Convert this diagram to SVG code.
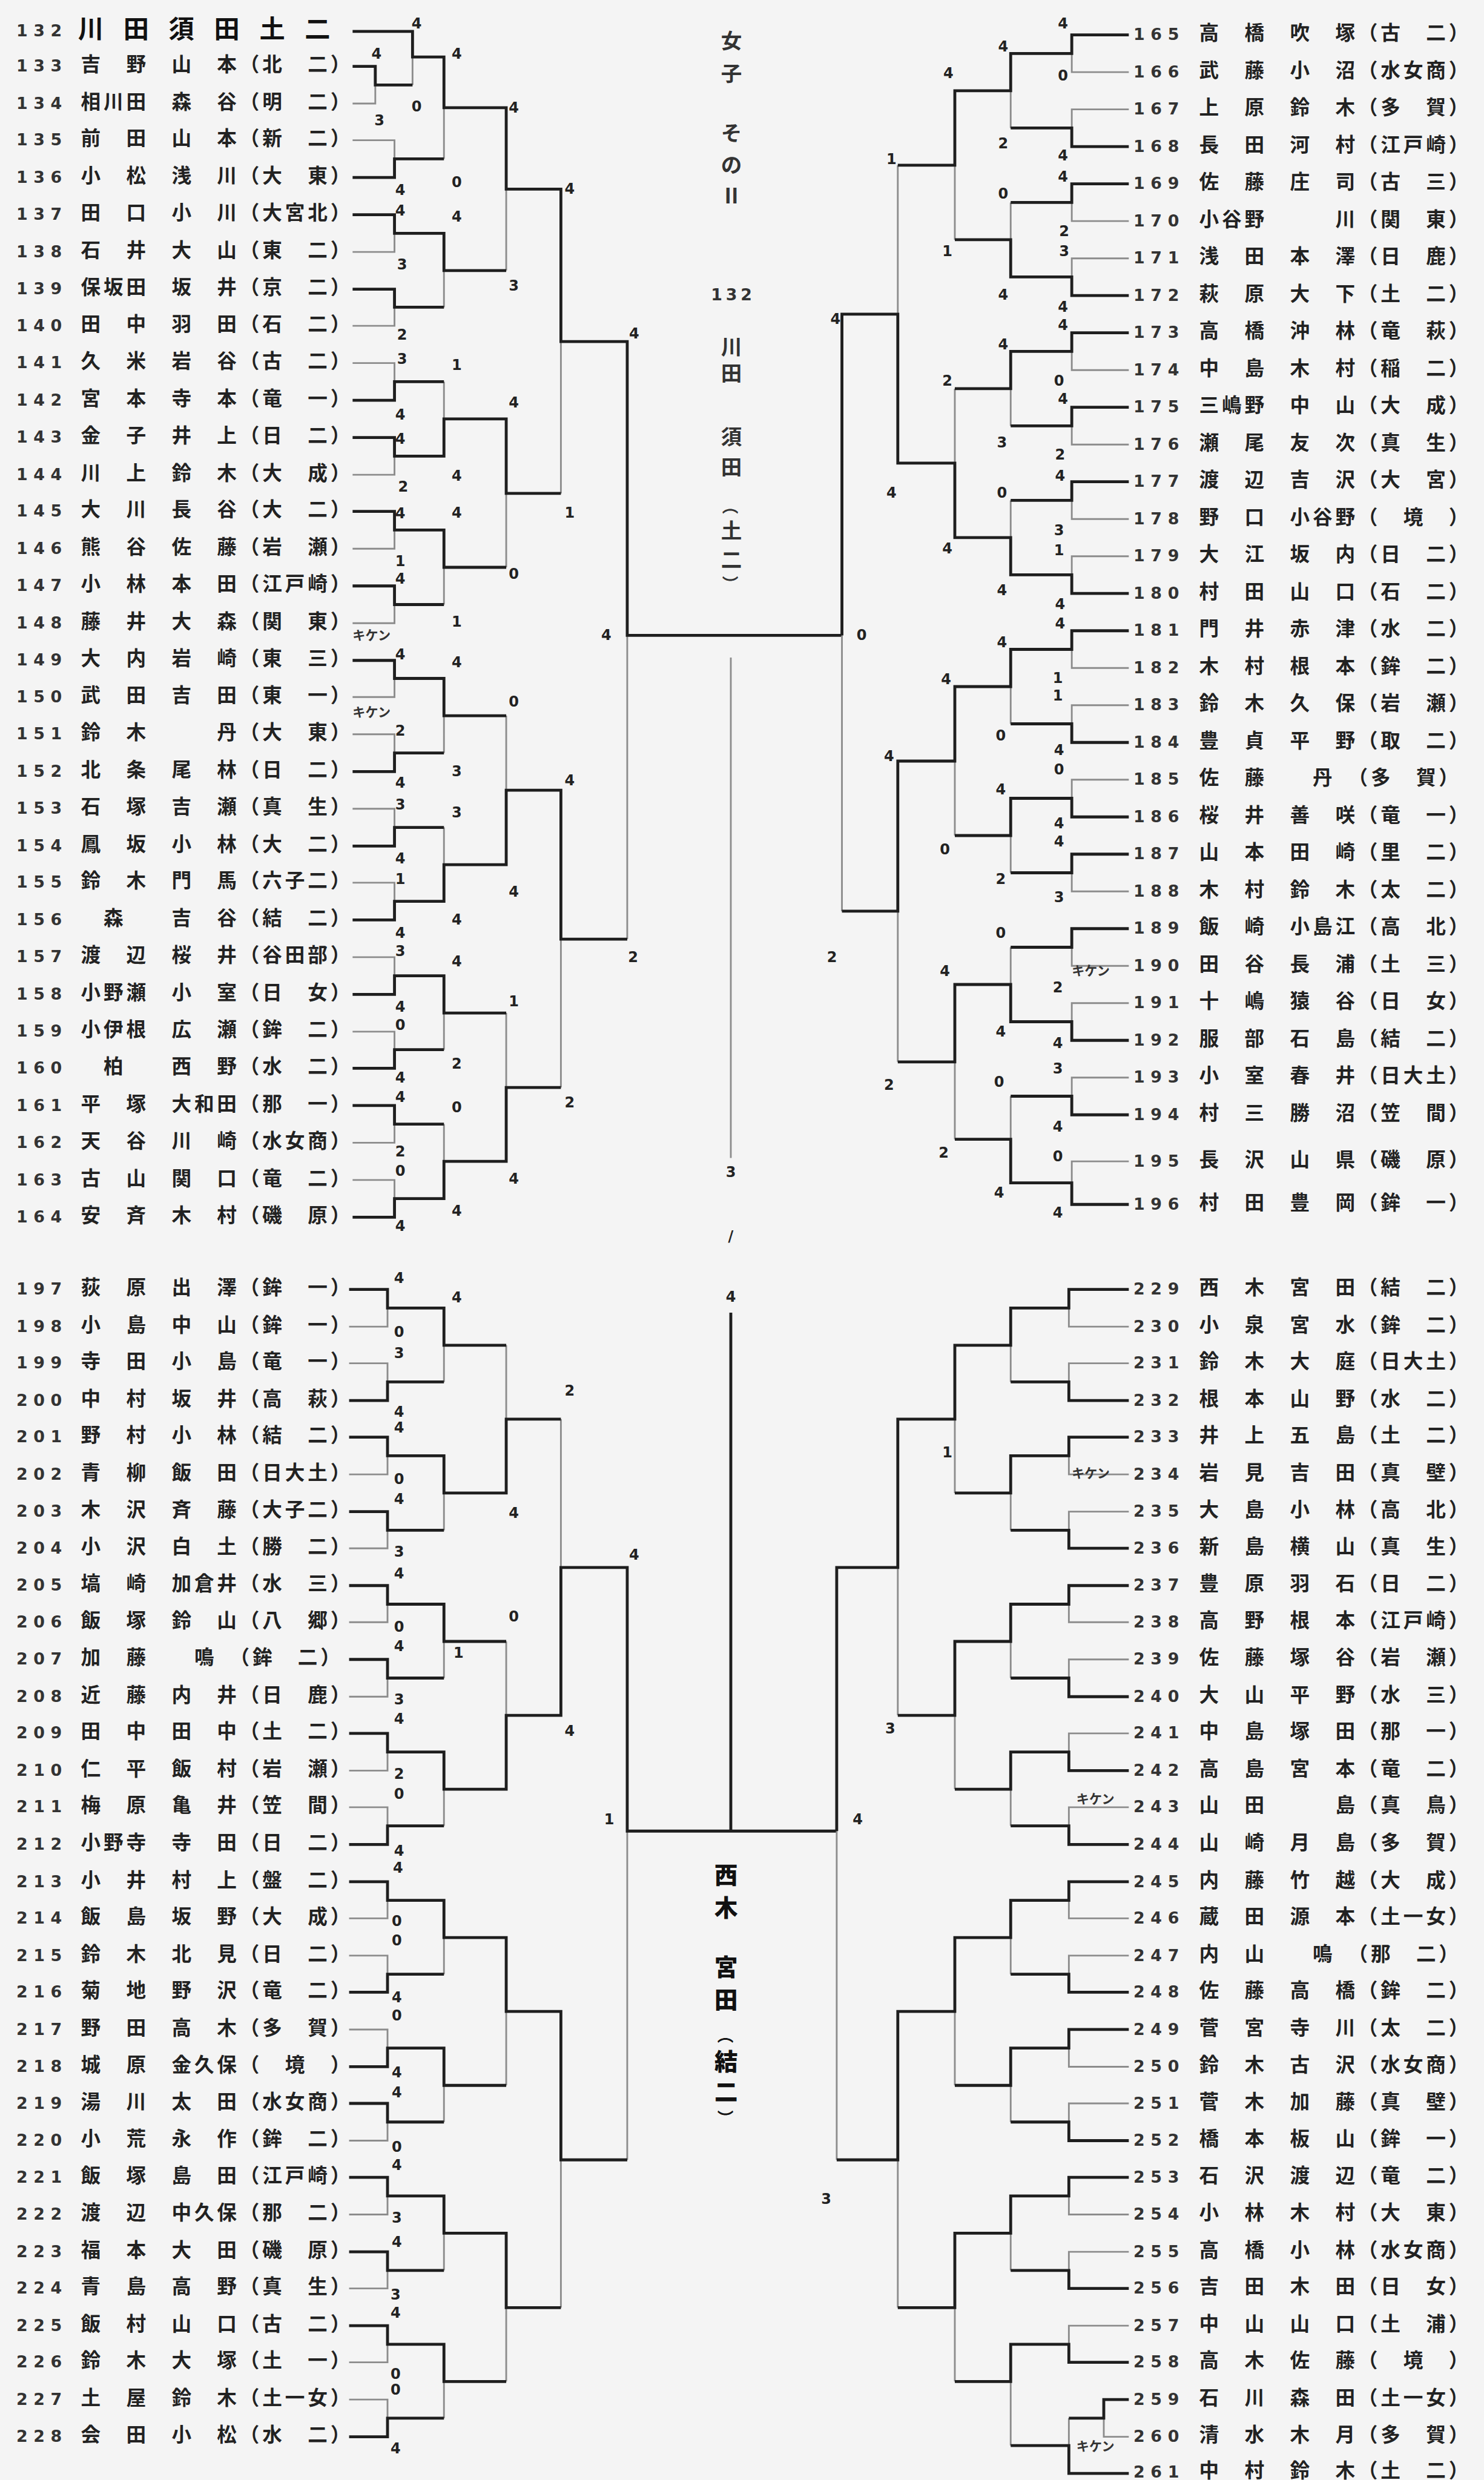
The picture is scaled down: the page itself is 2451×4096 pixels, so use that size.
<svg xmlns="http://www.w3.org/2000/svg" width="2451" height="4096" viewBox="0 0 2451 4096">
<style>
.t{font-family:"Noto Sans CJK JP","Noto Sans CJK SC",sans-serif;font-size:34px;font-weight:bold;letter-spacing:5px;fill:#222}
.n{font-family:"DejaVu Sans",sans-serif;font-size:28px;font-weight:bold;letter-spacing:10px;fill:#333}
.big{font-family:"Noto Sans CJK JP",sans-serif;font-size:44px;font-weight:bold;letter-spacing:-5px;fill:#111}
.c{font-family:"Noto Sans CJK JP","Noto Sans CJK SC",sans-serif;font-size:36px;font-weight:bold;fill:#333;text-anchor:middle}
.cb{font-family:"Noto Sans CJK JP","Noto Sans CJK SC",sans-serif;font-size:40px;font-weight:900;fill:#111;text-anchor:middle}
.p{font-family:"Noto Sans CJK JP",sans-serif;font-size:28px;font-weight:bold;fill:#333;text-anchor:middle;dominant-baseline:central}
.s{font-family:"DejaVu Sans",sans-serif;font-size:25px;font-weight:bold;fill:#222;text-anchor:middle;dominant-baseline:central}
.k{font-family:"Noto Sans CJK JP",sans-serif;font-size:22px;font-weight:bold;fill:#333}
.w{fill:none;stroke:#1e1e1e;stroke-width:5}
.l{fill:none;stroke:#8c8c8c;stroke-width:3}
</style>
<rect x="0" y="0" width="2451" height="4096" fill="#f4f4f4"/>
<g transform="scale(0.961)">
<g id="title">
<text class="c" x="1257" y="83">女</text>
<text class="c" x="1257" y="139">子</text>
<text class="c" x="1257" y="241">そ</text>
<text class="c" x="1257" y="297">の</text>
<text class="c" x="1257" y="350">Ⅱ</text>
<text class="n" x="1222" y="516" style="letter-spacing:6px">132</text>
<text class="c" x="1257" y="609">川</text>
<text class="c" x="1257" y="655">田</text>
<text class="c" x="1257" y="764">須</text>
<text class="c" x="1257" y="816">田</text>
<text class="p" transform="translate(1257 870) rotate(90)">（</text>
<text class="c" x="1257" y="925">土</text>
<text class="c" x="1257" y="975">二</text>
<text class="p" transform="translate(1257 1003) rotate(90)">）</text>
<text class="cb" x="1248" y="3237">西</text>
<text class="cb" x="1248" y="3293">木</text>
<text class="cb" x="1248" y="3395">宮</text>
<text class="cb" x="1248" y="3452">田</text>
<text class="p" transform="translate(1248 3498) rotate(90)" style="fill:#111">（</text>
<text class="cb" x="1248" y="3558">結</text>
<text class="cb" x="1248" y="3610">二</text>
<text class="p" transform="translate(1248 3640) rotate(90)" style="fill:#111">）</text>
</g>
<g id="connectors">
<path class="l" d="M606 178 H645 V146 M709 146 V98 M606 241 H678 V273 M763 273 V185 M606 433 H678 V401 M870 465 V325 M763 528 V465 M606 560 H678 V528 M606 624 H678 V656 M763 656 V720 M964 848 V587 M606 816 H678 V784 M870 975 V848 M606 943 H678 V911 M763 1039 V975 M606 1071 H678 V1039 M870 1230 V1358 M606 1198 H678 V1166 M763 1294 V1230 M606 1262 H678 V1294 M763 1422 V1486 M606 1390 H678 V1422 M1078 1614 V1092 M606 1517 H678 V1549 M870 1741 V1869 M606 1645 H678 V1677 M763 1804 V1741 M606 1773 H678 V1804 M763 1932 V1996 M606 1964 H678 V1932 M964 1869 V1614 M606 2028 H678 V2060"/>
<path class="w" d="M606 54 H709 V98 H763 V185 H870 V325 H964 V587 H1078 V1092 H1447 M606 114 H645 V146 H709 M606 305 H678 V273 H763 M606 369 H678 V401 H763 V465 H870 M606 497 H678 V528 H763 M606 688 H678 V656 H763 M606 752 H678 V784 H763 V720 H870 V848 H964 M606 879 H678 V911 H763 V975 H870 M606 1007 H678 V1039 H763 M606 1135 H678 V1166 H763 V1230 H870 M606 1326 H678 V1294 H763 M606 1454 H678 V1422 H763 M606 1581 H678 V1549 H763 V1486 H870 V1358 H964 V1614 H1078 M606 1709 H678 V1677 H763 V1741 H870 M606 1836 H678 V1804 H763 M606 1900 H678 V1932 H763 M606 2092 H678 V2060 H763 V1996 H870 V1869 H964"/>
<path class="l" d="M1940 124 H1842 V92 M1737 220 V156 M1940 188 H1842 V220 M1737 348 V412 M1940 380 H1842 V348 M1543 284 V540 M1940 444 H1842 V476 M1641 412 V284 M1940 636 H1842 V604 M1641 668 V796 M1737 732 V668 M1940 764 H1842 V732 M1737 860 V924 M1940 892 H1842 V860 M1940 956 H1842 V988 M1447 1566 V1092 M1940 1148 H1842 V1116 M1737 1244 V1180 M1940 1212 H1842 V1244 M1641 1436 V1308 M1940 1340 H1842 V1372 M1737 1500 V1436 M1940 1532 H1842 V1500 M1737 1628 V1692 M1940 1660 H1842 V1628 M1543 1825 V1566 M1940 1724 H1842 V1756 M1737 1884 V1958 M1940 1852 H1842 V1884 M1641 1958 V1825 M1940 1996 H1842 V2033"/>
<path class="w" d="M1940 60 H1842 V92 H1737 V156 H1641 V284 H1543 M1940 252 H1842 V220 H1737 M1940 316 H1842 V348 H1737 M1940 508 H1842 V476 H1737 V412 H1641 M1940 572 H1842 V604 H1737 V668 H1641 M1940 700 H1842 V732 H1737 M1940 828 H1842 V860 H1737 M1940 1020 H1842 V988 H1737 V924 H1641 V796 H1543 V540 H1447 V1092 M1940 1084 H1842 V1116 H1737 V1180 H1641 V1308 H1543 V1566 H1447 M1940 1276 H1842 V1244 H1737 M1940 1404 H1842 V1372 H1737 V1436 H1641 M1940 1468 H1842 V1500 H1737 M1940 1596 H1842 V1628 H1737 M1940 1788 H1842 V1756 H1737 V1692 H1641 V1825 H1543 M1940 1916 H1842 V1884 H1737 M1940 2070 H1842 V2033 H1737 V1958 H1641"/>
<path class="l" d="M1256 1130 V1990"/>
<path class="w" d="M1256 2256 V3147"/>
<path class="l" d="M600 2280 H666 V2248 M600 2343 H666 V2375 M763 2375 V2312 M870 2312 V2439 M600 2534 H666 V2502 M600 2661 H666 V2630 M763 2630 V2566 M964 2439 V2694 M600 2788 H666 V2757 M870 2821 V2948 M600 2916 H666 V2884 M763 2884 V2821 M600 3043 H666 V3011 M600 3106 H666 V3138 M763 3138 V3075 M600 3297 H666 V3266 M1078 3712 V3147 M600 3361 H666 V3393 M763 3393 V3330 M600 3488 H666 V3520 M870 3584 V3457 M600 3679 H666 V3647 M763 3647 V3584 M600 3806 H666 V3774 M964 3966 V3712 M600 3933 H666 V3902 M763 3902 V3838 M600 4060 H666 V4029 M870 4093 V3966 M600 4124 H666 V4156 M763 4156 V4093"/>
<path class="w" d="M600 2216 H666 V2248 H763 V2312 H870 M600 2407 H666 V2375 H763 M600 2470 H666 V2502 H763 V2566 H870 V2439 H964 M600 2598 H666 V2630 H763 M600 2725 H666 V2757 H763 V2821 H870 M600 2852 H666 V2884 H763 M600 2979 H666 V3011 H763 V3075 H870 V2948 H964 V2694 H1078 V3147 H1438 M600 3170 H666 V3138 H763 M600 3234 H666 V3266 H763 V3330 H870 V3457 H964 V3712 H1078 M600 3424 H666 V3393 H763 M600 3552 H666 V3520 H763 V3584 H870 M600 3615 H666 V3647 H763 M600 3742 H666 V3774 H763 V3838 H870 V3966 H964 M600 3870 H666 V3902 H763 M600 3997 H666 V4029 H763 V4093 H870 M600 4188 H666 V4156 H763"/>
<path class="l" d="M1940 2280 H1837 V2248 M1940 2343 H1837 V2375 M1737 2375 V2312 M1940 2534 H1837 V2502 M1641 2566 V2439 M1940 2598 H1837 V2630 M1737 2630 V2566 M1940 2788 H1837 V2757 M1543 2948 V2694 M1940 2852 H1837 V2884 M1737 2884 V2821 M1940 2979 H1837 V3011 M1641 3075 V2948 M1940 3106 H1837 V3138 M1737 3138 V3075 M1940 3297 H1837 V3266 M1438 3712 V3147 M1940 3361 H1837 V3393 M1737 3393 V3330 M1940 3552 H1837 V3520 M1641 3584 V3457 M1940 3615 H1837 V3647 M1737 3647 V3584 M1940 3806 H1837 V3774 M1543 3966 V3712 M1940 3870 H1837 V3902 M1737 3902 V3838 M1940 3997 H1837 V4029 M1641 4093 V3966 M1940 4188 H1897 V4156 M1837 4156 V4203 M1737 4203 V4093"/>
<path class="w" d="M1940 2216 H1837 V2248 H1737 V2312 H1641 V2439 H1543 V2694 H1438 V3147 M1940 2407 H1837 V2375 H1737 M1940 2470 H1837 V2502 H1737 V2566 H1641 M1940 2661 H1837 V2630 H1737 M1940 2725 H1837 V2757 H1737 V2821 H1641 V2948 H1543 M1940 2916 H1837 V2884 H1737 M1940 3043 H1837 V3011 H1737 V3075 H1641 M1940 3170 H1837 V3138 H1737 M1940 3234 H1837 V3266 H1737 V3330 H1641 V3457 H1543 V3712 H1438 M1940 3424 H1837 V3393 H1737 M1940 3488 H1837 V3520 H1737 V3584 H1641 M1940 3679 H1837 V3647 H1737 M1940 3742 H1837 V3774 H1737 V3838 H1641 V3966 H1543 M1940 3933 H1837 V3902 H1737 M1940 4060 H1837 V4029 H1737 V4093 H1641 M1940 4124 H1897 V4156 H1837 M1940 4251 H1837 V4203 H1737"/>
</g>
<g id="nodes-left-top">
<g id="p132"><text class="n" x="28" y="62">132</text><text class="big" x="134" y="66">川　田　須　田　土　二</text></g>
<g id="p133"><text class="t" y="123"><tspan class="n" x="28">133</tspan><tspan x="139">吉　野　山　本（北　二）</tspan></text></g>
<g id="p134"><text class="t" y="187"><tspan class="n" x="28">134</tspan><tspan x="139">相川田　森　谷（明　二）</tspan></text></g>
<g id="p135"><text class="t" y="250"><tspan class="n" x="28">135</tspan><tspan x="139">前　田　山　本（新　二）</tspan></text></g>
<g id="p136"><text class="t" y="314"><tspan class="n" x="28">136</tspan><tspan x="139">小　松　浅　川（大　東）</tspan></text></g>
<g id="p137"><text class="t" y="378"><tspan class="n" x="28">137</tspan><tspan x="139">田　口　小　川（大宮北）</tspan></text></g>
<g id="p138"><text class="t" y="442"><tspan class="n" x="28">138</tspan><tspan x="139">石　井　大　山（東　二）</tspan></text></g>
<g id="p139"><text class="t" y="506"><tspan class="n" x="28">139</tspan><tspan x="139">保坂田　坂　井（京　二）</tspan></text></g>
<g id="p140"><text class="t" y="569"><tspan class="n" x="28">140</tspan><tspan x="139">田　中　羽　田（石　二）</tspan></text></g>
<g id="p141"><text class="t" y="633"><tspan class="n" x="28">141</tspan><tspan x="139">久　米　岩　谷（古　二）</tspan></text></g>
<g id="p142"><text class="t" y="697"><tspan class="n" x="28">142</tspan><tspan x="139">宮　本　寺　本（竜　一）</tspan></text></g>
<g id="p143"><text class="t" y="761"><tspan class="n" x="28">143</tspan><tspan x="139">金　子　井　上（日　二）</tspan></text></g>
<g id="p144"><text class="t" y="825"><tspan class="n" x="28">144</tspan><tspan x="139">川　上　鈴　木（大　成）</tspan></text></g>
<g id="p145"><text class="t" y="888"><tspan class="n" x="28">145</tspan><tspan x="139">大　川　長　谷（大　二）</tspan></text></g>
<g id="p146"><text class="t" y="952"><tspan class="n" x="28">146</tspan><tspan x="139">熊　谷　佐　藤（岩　瀬）</tspan></text></g>
<g id="p147"><text class="t" y="1016"><tspan class="n" x="28">147</tspan><tspan x="139">小　林　本　田（江戸崎）</tspan></text></g>
<g id="p148"><text class="t" y="1080"><tspan class="n" x="28">148</tspan><tspan x="139">藤　井　大　森（関　東）</tspan></text></g>
<g id="p149"><text class="t" y="1144"><tspan class="n" x="28">149</tspan><tspan x="139">大　内　岩　崎（東　三）</tspan></text></g>
<g id="p150"><text class="t" y="1207"><tspan class="n" x="28">150</tspan><tspan x="139">武　田　吉　田（東　一）</tspan></text></g>
<g id="p151"><text class="t" y="1271"><tspan class="n" x="28">151</tspan><tspan x="139">鈴　木　　　丹（大　東）</tspan></text></g>
<g id="p152"><text class="t" y="1335"><tspan class="n" x="28">152</tspan><tspan x="139">北　条　尾　林（日　二）</tspan></text></g>
<g id="p153"><text class="t" y="1399"><tspan class="n" x="28">153</tspan><tspan x="139">石　塚　吉　瀬（真　生）</tspan></text></g>
<g id="p154"><text class="t" y="1463"><tspan class="n" x="28">154</tspan><tspan x="139">鳳　坂　小　林（大　二）</tspan></text></g>
<g id="p155"><text class="t" y="1526"><tspan class="n" x="28">155</tspan><tspan x="139">鈴　木　門　馬（六子二）</tspan></text></g>
<g id="p156"><text class="t" y="1590"><tspan class="n" x="28">156</tspan><tspan x="139">　森　　吉　谷（結　二）</tspan></text></g>
<g id="p157"><text class="t" y="1654"><tspan class="n" x="28">157</tspan><tspan x="139">渡　辺　桜　井（谷田部）</tspan></text></g>
<g id="p158"><text class="t" y="1718"><tspan class="n" x="28">158</tspan><tspan x="139">小野瀬　小　室（日　女）</tspan></text></g>
<g id="p159"><text class="t" y="1782"><tspan class="n" x="28">159</tspan><tspan x="139">小伊根　広　瀬（鉾　二）</tspan></text></g>
<g id="p160"><text class="t" y="1845"><tspan class="n" x="28">160</tspan><tspan x="139">　柏　　西　野（水　二）</tspan></text></g>
<g id="p161"><text class="t" y="1909"><tspan class="n" x="28">161</tspan><tspan x="139">平　塚　大和田（那　一）</tspan></text></g>
<g id="p162"><text class="t" y="1973"><tspan class="n" x="28">162</tspan><tspan x="139">天　谷　川　崎（水女商）</tspan></text></g>
<g id="p163"><text class="t" y="2037"><tspan class="n" x="28">163</tspan><tspan x="139">古　山　関　口（竜　二）</tspan></text></g>
<g id="p164"><text class="t" y="2101"><tspan class="n" x="28">164</tspan><tspan x="139">安　斉　木　村（磯　原）</tspan></text></g>
</g>
<g id="nodes-left-bottom">
<g id="p197"><text class="t" y="2225"><tspan class="n" x="28">197</tspan><tspan x="139">荻　原　出　澤（鉾　一）</tspan></text></g>
<g id="p198"><text class="t" y="2289"><tspan class="n" x="28">198</tspan><tspan x="139">小　島　中　山（鉾　一）</tspan></text></g>
<g id="p199"><text class="t" y="2352"><tspan class="n" x="28">199</tspan><tspan x="139">寺　田　小　島（竜　一）</tspan></text></g>
<g id="p200"><text class="t" y="2416"><tspan class="n" x="28">200</tspan><tspan x="139">中　村　坂　井（高　萩）</tspan></text></g>
<g id="p201"><text class="t" y="2479"><tspan class="n" x="28">201</tspan><tspan x="139">野　村　小　林（結　二）</tspan></text></g>
<g id="p202"><text class="t" y="2543"><tspan class="n" x="28">202</tspan><tspan x="139">青　柳　飯　田（日大土）</tspan></text></g>
<g id="p203"><text class="t" y="2607"><tspan class="n" x="28">203</tspan><tspan x="139">木　沢　斉　藤（大子二）</tspan></text></g>
<g id="p204"><text class="t" y="2670"><tspan class="n" x="28">204</tspan><tspan x="139">小　沢　白　土（勝　二）</tspan></text></g>
<g id="p205"><text class="t" y="2734"><tspan class="n" x="28">205</tspan><tspan x="139">塙　崎　加倉井（水　三）</tspan></text></g>
<g id="p206"><text class="t" y="2797"><tspan class="n" x="28">206</tspan><tspan x="139">飯　塚　鈴　山（八　郷）</tspan></text></g>
<g id="p207"><text class="t" y="2861"><tspan class="n" x="28">207</tspan><tspan x="139">加　藤　　鳴　（鉾　二）</tspan></text></g>
<g id="p208"><text class="t" y="2925"><tspan class="n" x="28">208</tspan><tspan x="139">近　藤　内　井（日　鹿）</tspan></text></g>
<g id="p209"><text class="t" y="2988"><tspan class="n" x="28">209</tspan><tspan x="139">田　中　田　中（土　二）</tspan></text></g>
<g id="p210"><text class="t" y="3052"><tspan class="n" x="28">210</tspan><tspan x="139">仁　平　飯　村（岩　瀬）</tspan></text></g>
<g id="p211"><text class="t" y="3115"><tspan class="n" x="28">211</tspan><tspan x="139">梅　原　亀　井（笠　間）</tspan></text></g>
<g id="p212"><text class="t" y="3179"><tspan class="n" x="28">212</tspan><tspan x="139">小野寺　寺　田（日　二）</tspan></text></g>
<g id="p213"><text class="t" y="3243"><tspan class="n" x="28">213</tspan><tspan x="139">小　井　村　上（盤　二）</tspan></text></g>
<g id="p214"><text class="t" y="3306"><tspan class="n" x="28">214</tspan><tspan x="139">飯　島　坂　野（大　成）</tspan></text></g>
<g id="p215"><text class="t" y="3370"><tspan class="n" x="28">215</tspan><tspan x="139">鈴　木　北　見（日　二）</tspan></text></g>
<g id="p216"><text class="t" y="3433"><tspan class="n" x="28">216</tspan><tspan x="139">菊　地　野　沢（竜　二）</tspan></text></g>
<g id="p217"><text class="t" y="3497"><tspan class="n" x="28">217</tspan><tspan x="139">野　田　高　木（多　賀）</tspan></text></g>
<g id="p218"><text class="t" y="3561"><tspan class="n" x="28">218</tspan><tspan x="139">城　原　金久保（　境　）</tspan></text></g>
<g id="p219"><text class="t" y="3624"><tspan class="n" x="28">219</tspan><tspan x="139">湯　川　太　田（水女商）</tspan></text></g>
<g id="p220"><text class="t" y="3688"><tspan class="n" x="28">220</tspan><tspan x="139">小　荒　永　作（鉾　二）</tspan></text></g>
<g id="p221"><text class="t" y="3751"><tspan class="n" x="28">221</tspan><tspan x="139">飯　塚　島　田（江戸崎）</tspan></text></g>
<g id="p222"><text class="t" y="3815"><tspan class="n" x="28">222</tspan><tspan x="139">渡　辺　中久保（那　二）</tspan></text></g>
<g id="p223"><text class="t" y="3879"><tspan class="n" x="28">223</tspan><tspan x="139">福　本　大　田（磯　原）</tspan></text></g>
<g id="p224"><text class="t" y="3942"><tspan class="n" x="28">224</tspan><tspan x="139">青　島　高　野（真　生）</tspan></text></g>
<g id="p225"><text class="t" y="4006"><tspan class="n" x="28">225</tspan><tspan x="139">飯　村　山　口（古　二）</tspan></text></g>
<g id="p226"><text class="t" y="4069"><tspan class="n" x="28">226</tspan><tspan x="139">鈴　木　大　塚（土　一）</tspan></text></g>
<g id="p227"><text class="t" y="4133"><tspan class="n" x="28">227</tspan><tspan x="139">土　屋　鈴　木（土一女）</tspan></text></g>
<g id="p228"><text class="t" y="4197"><tspan class="n" x="28">228</tspan><tspan x="139">会　田　小　松（水　二）</tspan></text></g>
</g>
<g id="nodes-right-top">
<g id="p165"><text class="t" y="69"><tspan class="n" x="1948">165</tspan><tspan x="2061">高　橋　吹　塚（古　二）</tspan></text></g>
<g id="p166"><text class="t" y="133"><tspan class="n" x="1948">166</tspan><tspan x="2061">武　藤　小　沼（水女商）</tspan></text></g>
<g id="p167"><text class="t" y="197"><tspan class="n" x="1948">167</tspan><tspan x="2061">上　原　鈴　木（多　賀）</tspan></text></g>
<g id="p168"><text class="t" y="261"><tspan class="n" x="1948">168</tspan><tspan x="2061">長　田　河　村（江戸崎）</tspan></text></g>
<g id="p169"><text class="t" y="325"><tspan class="n" x="1948">169</tspan><tspan x="2061">佐　藤　庄　司（古　三）</tspan></text></g>
<g id="p170"><text class="t" y="389"><tspan class="n" x="1948">170</tspan><tspan x="2061">小谷野　　　川（関　東）</tspan></text></g>
<g id="p171"><text class="t" y="453"><tspan class="n" x="1948">171</tspan><tspan x="2061">浅　田　本　澤（日　鹿）</tspan></text></g>
<g id="p172"><text class="t" y="517"><tspan class="n" x="1948">172</tspan><tspan x="2061">萩　原　大　下（土　二）</tspan></text></g>
<g id="p173"><text class="t" y="581"><tspan class="n" x="1948">173</tspan><tspan x="2061">高　橋　沖　林（竜　萩）</tspan></text></g>
<g id="p174"><text class="t" y="645"><tspan class="n" x="1948">174</tspan><tspan x="2061">中　島　木　村（稲　二）</tspan></text></g>
<g id="p175"><text class="t" y="709"><tspan class="n" x="1948">175</tspan><tspan x="2061">三嶋野　中　山（大　成）</tspan></text></g>
<g id="p176"><text class="t" y="773"><tspan class="n" x="1948">176</tspan><tspan x="2061">瀬　尾　友　次（真　生）</tspan></text></g>
<g id="p177"><text class="t" y="837"><tspan class="n" x="1948">177</tspan><tspan x="2061">渡　辺　吉　沢（大　宮）</tspan></text></g>
<g id="p178"><text class="t" y="901"><tspan class="n" x="1948">178</tspan><tspan x="2061">野　口　小谷野（　境　）</tspan></text></g>
<g id="p179"><text class="t" y="965"><tspan class="n" x="1948">179</tspan><tspan x="2061">大　江　坂　内（日　二）</tspan></text></g>
<g id="p180"><text class="t" y="1029"><tspan class="n" x="1948">180</tspan><tspan x="2061">村　田　山　口（石　二）</tspan></text></g>
<g id="p181"><text class="t" y="1093"><tspan class="n" x="1948">181</tspan><tspan x="2061">門　井　赤　津（水　二）</tspan></text></g>
<g id="p182"><text class="t" y="1157"><tspan class="n" x="1948">182</tspan><tspan x="2061">木　村　根　本（鉾　二）</tspan></text></g>
<g id="p183"><text class="t" y="1221"><tspan class="n" x="1948">183</tspan><tspan x="2061">鈴　木　久　保（岩　瀬）</tspan></text></g>
<g id="p184"><text class="t" y="1285"><tspan class="n" x="1948">184</tspan><tspan x="2061">豊　貞　平　野（取　二）</tspan></text></g>
<g id="p185"><text class="t" y="1349"><tspan class="n" x="1948">185</tspan><tspan x="2061">佐　藤　　丹　（多　賀）</tspan></text></g>
<g id="p186"><text class="t" y="1413"><tspan class="n" x="1948">186</tspan><tspan x="2061">桜　井　善　咲（竜　一）</tspan></text></g>
<g id="p187"><text class="t" y="1477"><tspan class="n" x="1948">187</tspan><tspan x="2061">山　本　田　崎（里　二）</tspan></text></g>
<g id="p188"><text class="t" y="1541"><tspan class="n" x="1948">188</tspan><tspan x="2061">木　村　鈴　木（太　二）</tspan></text></g>
<g id="p189"><text class="t" y="1605"><tspan class="n" x="1948">189</tspan><tspan x="2061">飯　崎　小島江（高　北）</tspan></text></g>
<g id="p190"><text class="t" y="1669"><tspan class="n" x="1948">190</tspan><tspan x="2061">田　谷　長　浦（土　三）</tspan></text></g>
<g id="p191"><text class="t" y="1733"><tspan class="n" x="1948">191</tspan><tspan x="2061">十　嶋　猿　谷（日　女）</tspan></text></g>
<g id="p192"><text class="t" y="1797"><tspan class="n" x="1948">192</tspan><tspan x="2061">服　部　石　島（結　二）</tspan></text></g>
<g id="p193"><text class="t" y="1861"><tspan class="n" x="1948">193</tspan><tspan x="2061">小　室　春　井（日大土）</tspan></text></g>
<g id="p194"><text class="t" y="1925"><tspan class="n" x="1948">194</tspan><tspan x="2061">村　三　勝　沼（笠　間）</tspan></text></g>
<g id="p195"><text class="t" y="2005"><tspan class="n" x="1948">195</tspan><tspan x="2061">長　沢　山　県（磯　原）</tspan></text></g>
<g id="p196"><text class="t" y="2079"><tspan class="n" x="1948">196</tspan><tspan x="2061">村　田　豊　岡（鉾　一）</tspan></text></g>
</g>
<g id="nodes-right-bottom">
<g id="p229"><text class="t" y="2225"><tspan class="n" x="1948">229</tspan><tspan x="2061">西　木　宮　田（結　二）</tspan></text></g>
<g id="p230"><text class="t" y="2289"><tspan class="n" x="1948">230</tspan><tspan x="2061">小　泉　宮　水（鉾　二）</tspan></text></g>
<g id="p231"><text class="t" y="2352"><tspan class="n" x="1948">231</tspan><tspan x="2061">鈴　木　大　庭（日大土）</tspan></text></g>
<g id="p232"><text class="t" y="2416"><tspan class="n" x="1948">232</tspan><tspan x="2061">根　本　山　野（水　二）</tspan></text></g>
<g id="p233"><text class="t" y="2479"><tspan class="n" x="1948">233</tspan><tspan x="2061">井　上　五　島（土　二）</tspan></text></g>
<g id="p234"><text class="t" y="2543"><tspan class="n" x="1948">234</tspan><tspan x="2061">岩　見　吉　田（真　壁）</tspan></text></g>
<g id="p235"><text class="t" y="2607"><tspan class="n" x="1948">235</tspan><tspan x="2061">大　島　小　林（高　北）</tspan></text></g>
<g id="p236"><text class="t" y="2670"><tspan class="n" x="1948">236</tspan><tspan x="2061">新　島　横　山（真　生）</tspan></text></g>
<g id="p237"><text class="t" y="2734"><tspan class="n" x="1948">237</tspan><tspan x="2061">豊　原　羽　石（日　二）</tspan></text></g>
<g id="p238"><text class="t" y="2797"><tspan class="n" x="1948">238</tspan><tspan x="2061">高　野　根　本（江戸崎）</tspan></text></g>
<g id="p239"><text class="t" y="2861"><tspan class="n" x="1948">239</tspan><tspan x="2061">佐　藤　塚　谷（岩　瀬）</tspan></text></g>
<g id="p240"><text class="t" y="2925"><tspan class="n" x="1948">240</tspan><tspan x="2061">大　山　平　野（水　三）</tspan></text></g>
<g id="p241"><text class="t" y="2988"><tspan class="n" x="1948">241</tspan><tspan x="2061">中　島　塚　田（那　一）</tspan></text></g>
<g id="p242"><text class="t" y="3052"><tspan class="n" x="1948">242</tspan><tspan x="2061">高　島　宮　本（竜　二）</tspan></text></g>
<g id="p243"><text class="t" y="3115"><tspan class="n" x="1948">243</tspan><tspan x="2061">山　田　　　島（真　鳥）</tspan></text></g>
<g id="p244"><text class="t" y="3179"><tspan class="n" x="1948">244</tspan><tspan x="2061">山　崎　月　島（多　賀）</tspan></text></g>
<g id="p245"><text class="t" y="3243"><tspan class="n" x="1948">245</tspan><tspan x="2061">内　藤　竹　越（大　成）</tspan></text></g>
<g id="p246"><text class="t" y="3306"><tspan class="n" x="1948">246</tspan><tspan x="2061">蔵　田　源　本（土一女）</tspan></text></g>
<g id="p247"><text class="t" y="3370"><tspan class="n" x="1948">247</tspan><tspan x="2061">内　山　　鳴　（那　二）</tspan></text></g>
<g id="p248"><text class="t" y="3433"><tspan class="n" x="1948">248</tspan><tspan x="2061">佐　藤　高　橋（鉾　二）</tspan></text></g>
<g id="p249"><text class="t" y="3497"><tspan class="n" x="1948">249</tspan><tspan x="2061">菅　宮　寺　川（太　二）</tspan></text></g>
<g id="p250"><text class="t" y="3561"><tspan class="n" x="1948">250</tspan><tspan x="2061">鈴　木　古　沢（水女商）</tspan></text></g>
<g id="p251"><text class="t" y="3624"><tspan class="n" x="1948">251</tspan><tspan x="2061">菅　木　加　藤（真　壁）</tspan></text></g>
<g id="p252"><text class="t" y="3688"><tspan class="n" x="1948">252</tspan><tspan x="2061">橋　本　板　山（鉾　一）</tspan></text></g>
<g id="p253"><text class="t" y="3751"><tspan class="n" x="1948">253</tspan><tspan x="2061">石　沢　渡　辺（竜　二）</tspan></text></g>
<g id="p254"><text class="t" y="3815"><tspan class="n" x="1948">254</tspan><tspan x="2061">小　林　木　村（大　東）</tspan></text></g>
<g id="p255"><text class="t" y="3879"><tspan class="n" x="1948">255</tspan><tspan x="2061">高　橋　小　林（水女商）</tspan></text></g>
<g id="p256"><text class="t" y="3942"><tspan class="n" x="1948">256</tspan><tspan x="2061">吉　田　木　田（日　女）</tspan></text></g>
<g id="p257"><text class="t" y="4006"><tspan class="n" x="1948">257</tspan><tspan x="2061">中　山　山　口（土　浦）</tspan></text></g>
<g id="p258"><text class="t" y="4069"><tspan class="n" x="1948">258</tspan><tspan x="2061">高　木　佐　藤（　境　）</tspan></text></g>
<g id="p259"><text class="t" y="4133"><tspan class="n" x="1948">259</tspan><tspan x="2061">石　川　森　田（土一女）</tspan></text></g>
<g id="p260"><text class="t" y="4197"><tspan class="n" x="1948">260</tspan><tspan x="2061">清　水　木　月（多　賀）</tspan></text></g>
<g id="p261"><text class="t" y="4258"><tspan class="n" x="1948">261</tspan><tspan x="2061">中　村　鈴　木（土　二）</tspan></text></g>
</g>
<g id="notes">
<text class="k" x="606" y="1100">キケン</text>
<text class="k" x="606" y="1232">キケン</text>
<text class="k" x="1842" y="1676">キケン</text>
<text class="k" x="1842" y="2540">キケン</text>
<text class="k" x="1850" y="3100">キケン</text>
<text class="k" x="1850" y="4212">キケン</text>
</g>
<g id="scores">
<text class="s" x="716" y="41">4</text><text class="s" x="647" y="93">4</text><text class="s" x="652" y="207">3</text><text class="s" x="716" y="183">0</text>
<text class="s" x="688" y="327">4</text><text class="s" x="688" y="362">4</text><text class="s" x="691" y="455">3</text><text class="s" x="691" y="575">2</text><text class="s" x="691" y="617">3</text>
<text class="s" x="688" y="713">4</text><text class="s" x="688" y="754">4</text><text class="s" x="693" y="837">2</text><text class="s" x="688" y="882">4</text><text class="s" x="688" y="965">1</text>
<text class="s" x="688" y="995">4</text><text class="s" x="688" y="1125">4</text><text class="s" x="688" y="1256">2</text><text class="s" x="688" y="1345">4</text><text class="s" x="688" y="1383">3</text>
<text class="s" x="688" y="1476">4</text><text class="s" x="688" y="1511">1</text><text class="s" x="688" y="1604">4</text><text class="s" x="688" y="1635">3</text><text class="s" x="688" y="1731">4</text>
<text class="s" x="688" y="1762">0</text><text class="s" x="688" y="1852">4</text><text class="s" x="688" y="1886">4</text><text class="s" x="688" y="1979">2</text><text class="s" x="688" y="2013">0</text><text class="s" x="688" y="2107">4</text>
<text class="s" x="785" y="93">4</text><text class="s" x="785" y="313">0</text><text class="s" x="785" y="373">4</text><text class="s" x="785" y="627">1</text><text class="s" x="785" y="818">4</text>
<text class="s" x="785" y="881">4</text><text class="s" x="785" y="1069">1</text><text class="s" x="785" y="1138">4</text><text class="s" x="785" y="1326">3</text><text class="s" x="785" y="1396">3</text>
<text class="s" x="785" y="1581">4</text><text class="s" x="785" y="1652">4</text><text class="s" x="785" y="1828">2</text><text class="s" x="785" y="1903">0</text><text class="s" x="785" y="2081">4</text>
<text class="s" x="883" y="185">4</text><text class="s" x="883" y="491">3</text><text class="s" x="883" y="692">4</text><text class="s" x="883" y="987">0</text>
<text class="s" x="883" y="1206">0</text><text class="s" x="883" y="1533">4</text><text class="s" x="883" y="1721">1</text><text class="s" x="883" y="2026">4</text>
<text class="s" x="979" y="325">4</text><text class="s" x="979" y="881">1</text><text class="s" x="979" y="1341">4</text><text class="s" x="979" y="1895">2</text>
<text class="s" x="1090" y="573">4</text><text class="s" x="1088" y="1645">2</text><text class="s" x="1042" y="1092">4</text>
<text class="s" x="1827" y="41">4</text><text class="s" x="1827" y="130">0</text><text class="s" x="1827" y="267">4</text><text class="s" x="1827" y="304">4</text><text class="s" x="1829" y="398">2</text>
<text class="s" x="1829" y="432">3</text><text class="s" x="1827" y="528">4</text><text class="s" x="1827" y="559">4</text><text class="s" x="1820" y="655">0</text><text class="s" x="1827" y="686">4</text>
<text class="s" x="1822" y="781">2</text><text class="s" x="1822" y="818">4</text><text class="s" x="1820" y="912">3</text><text class="s" x="1820" y="946">1</text><text class="s" x="1822" y="1039">4</text>
<text class="s" x="1822" y="1072">4</text><text class="s" x="1818" y="1165">1</text><text class="s" x="1818" y="1196">1</text><text class="s" x="1820" y="1289">4</text><text class="s" x="1820" y="1323">0</text>
<text class="s" x="1820" y="1415">4</text><text class="s" x="1820" y="1446">4</text><text class="s" x="1820" y="1542">3</text><text class="s" x="1818" y="1697">2</text><text class="s" x="1818" y="1793">4</text>
<text class="s" x="1818" y="1837">3</text><text class="s" x="1818" y="1937">4</text><text class="s" x="1818" y="1988">0</text><text class="s" x="1818" y="2084">4</text>
<text class="s" x="1724" y="80">4</text><text class="s" x="1724" y="247">2</text><text class="s" x="1724" y="333">0</text><text class="s" x="1724" y="507">4</text><text class="s" x="1724" y="592">4</text>
<text class="s" x="1722" y="761">3</text><text class="s" x="1722" y="847">0</text><text class="s" x="1722" y="1015">4</text><text class="s" x="1722" y="1104">4</text><text class="s" x="1720" y="1264">0</text>
<text class="s" x="1720" y="1357">4</text><text class="s" x="1720" y="1511">2</text><text class="s" x="1720" y="1604">0</text><text class="s" x="1720" y="1773">4</text><text class="s" x="1717" y="1860">0</text><text class="s" x="1717" y="2050">4</text>
<text class="s" x="1630" y="126">4</text><text class="s" x="1628" y="432">1</text><text class="s" x="1628" y="655">2</text><text class="s" x="1628" y="943">4</text>
<text class="s" x="1626" y="1168">4</text><text class="s" x="1624" y="1460">0</text><text class="s" x="1624" y="1669">4</text><text class="s" x="1622" y="1981">2</text>
<text class="s" x="1532" y="274">1</text><text class="s" x="1532" y="847">4</text><text class="s" x="1528" y="1300">4</text><text class="s" x="1528" y="1865">2</text>
<text class="s" x="1436" y="548">4</text><text class="s" x="1430" y="1645">2</text><text class="s" x="1481" y="1092">0</text>
<text class="s" x="1256" y="2015">3</text><text class="s" x="1256" y="2125">/</text><text class="s" x="1256" y="2229">4</text>
<text class="s" x="686" y="2197">4</text><text class="s" x="686" y="2289">0</text><text class="s" x="686" y="2326">3</text><text class="s" x="686" y="2427">4</text><text class="s" x="686" y="2454">4</text>
<text class="s" x="686" y="2542">0</text><text class="s" x="686" y="2576">4</text><text class="s" x="686" y="2667">3</text><text class="s" x="686" y="2704">4</text><text class="s" x="686" y="2796">0</text>
<text class="s" x="686" y="2829">4</text><text class="s" x="686" y="2921">3</text><text class="s" x="686" y="2954">4</text><text class="s" x="686" y="3049">2</text><text class="s" x="686" y="3083">0</text><text class="s" x="686" y="3181">4</text>
<text class="s" x="684" y="3210">4</text><text class="s" x="682" y="3302">0</text><text class="s" x="682" y="3335">0</text><text class="s" x="682" y="3433">4</text><text class="s" x="682" y="3464">0</text>
<text class="s" x="682" y="3562">4</text><text class="s" x="682" y="3596">4</text><text class="s" x="682" y="3690">0</text><text class="s" x="682" y="3721">4</text><text class="s" x="682" y="3812">3</text>
<text class="s" x="682" y="3853">4</text><text class="s" x="680" y="3944">3</text><text class="s" x="680" y="3975">4</text><text class="s" x="680" y="4080">0</text><text class="s" x="680" y="4107">0</text><text class="s" x="680" y="4208">4</text>
<text class="s" x="785" y="2230">4</text><text class="s" x="788" y="2841">1</text><text class="s" x="883" y="2600">4</text><text class="s" x="883" y="2778">0</text>
<text class="s" x="979" y="2390">2</text><text class="s" x="979" y="2975">4</text><text class="s" x="1090" y="2672">4</text><text class="s" x="1047" y="3127">1</text>
<text class="s" x="1628" y="2496">1</text><text class="s" x="1530" y="2971">3</text><text class="s" x="1420" y="3779">3</text><text class="s" x="1474" y="3127">4</text>
</g>
</g>
</svg>
